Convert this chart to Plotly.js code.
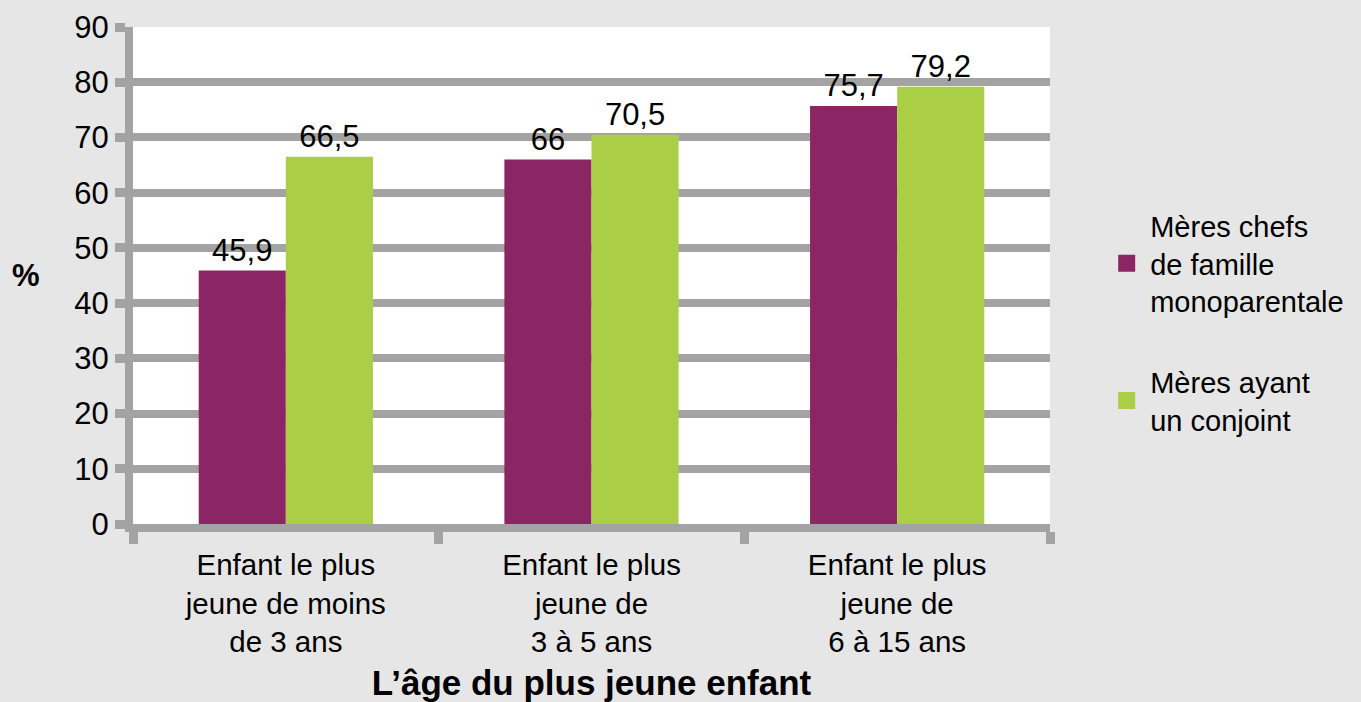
<!DOCTYPE html>
<html>
<head>
<meta charset="utf-8">
<script src="https://cdn.plot.ly/plotly-3.0.1.min.js"></script>
<style>html,body{margin:0;padding:0;background:#e6e6e6;}</style>
</head>
<body>
<div id="chart" style="width:1361px;height:702px;"></div>
<script>
const categories = [
  "Enfant le plus<br>jeune de moins<br>de 3 ans",
  "Enfant le plus<br>jeune de<br>3 à 5 ans",
  "Enfant le plus<br>jeune de<br>6 à 15 ans"
];
const seriesNames = ["Mères chefs<br>de famille<br>monoparentale", "Mères ayant<br>un conjoint"];
const meresChefs = [45.9, 66, 75.7];
const meresConjoint = [66.5, 70.5, 79.2];
const yTicks = [0, 10, 20, 30, 40, 50, 60, 70, 80, 90];
const colors = ['#8b2563', '#aacf46'];

const FONT = '"Liberation Sans", Arial, Helvetica, sans-serif';
const fmt = v => String(v).replace('.', ',');
const GRID = '#a3a3a3';

function barTrace(name, values, color, group) {
  return {
    type: 'bar', name: name, x: categories, y: values,
    text: values.map(fmt), textposition: 'outside', cliponaxis: false,
    textfont: {family: FONT, size: 31, color: '#000'},
    marker: {color: color}, offsetgroup: group, legendgroup: group,
    showlegend: false, hoverinfo: 'skip'
  };
}
// legend-only entries (no visible bar: value is null) so the key square can be enlarged
function legendTrace(name, color, group) {
  return {
    type: 'bar', name: name, x: [categories[0]], y: [null],
    marker: {color: color, line: {color: color, width: 5}},
    offsetgroup: group, legendgroup: group, showlegend: true, hoverinfo: 'skip'
  };
}

const traces = [
  barTrace(seriesNames[0], meresChefs, colors[0], 'a'),
  barTrace(seriesNames[1], meresConjoint, colors[1], 'b'),
  legendTrace(seriesNames[0], colors[0], 'a'),
  legendTrace(seriesNames[1], colors[1], 'b')
];

const layout = {
  width: 1361, height: 702,
  margin: {l: 133, r: 309, t: 27, b: 178},
  paper_bgcolor: '#e6e6e6', plot_bgcolor: '#ffffff',
  font: {family: FONT, size: 31, color: '#000'},
  barmode: 'group', bargap: 0.43, bargroupgap: 0,
  showlegend: true,
  legend: {
    x: 1.058, xanchor: 'left', y: 0.405, yanchor: 'middle',
    font: {family: FONT, size: 29, color: '#000'},
    bgcolor: 'rgba(0,0,0,0)', valign: 'middle', tracegroupgap: 40,
    itemwidth: 37
  },
  xaxis: {
    type: 'category', tickson: 'boundaries', ticks: 'outside',
    ticklen: 12, tickwidth: 9, tickcolor: GRID,
    showline: true, linewidth: 8, linecolor: GRID,
    showgrid: false, automargin: false, ticklabelstandoff: 8,
    tickfont: {family: FONT, size: 29.5, color: '#000'},
    title: {text: '<b>L’âge du plus jeune enfant</b>', font: {family: FONT, size: 35, color: '#000'}, standoff: 20}
  },
  yaxis: {
    range: [0, 90], tickvals: yTicks, ticktext: yTicks.map(String),
    ticks: 'outside', ticklen: 10, tickwidth: 9, tickcolor: GRID,
    showline: true, linewidth: 8, linecolor: GRID,
    showgrid: true, gridwidth: 8, gridcolor: GRID, zeroline: false,
    automargin: false,
    tickfont: {family: FONT, size: 31, color: '#000'}
  },
  annotations: [
    {text: '<b>%</b>', xref: 'paper', yref: 'paper', x: -0.117, y: 0.5,
     xanchor: 'center', yanchor: 'middle', showarrow: false,
     font: {family: FONT, size: 31, color: '#000'}}
  ]
};

Plotly.newPlot('chart', traces, layout, {displayModeBar: false, staticPlot: true});
</script>
</body>
</html>
